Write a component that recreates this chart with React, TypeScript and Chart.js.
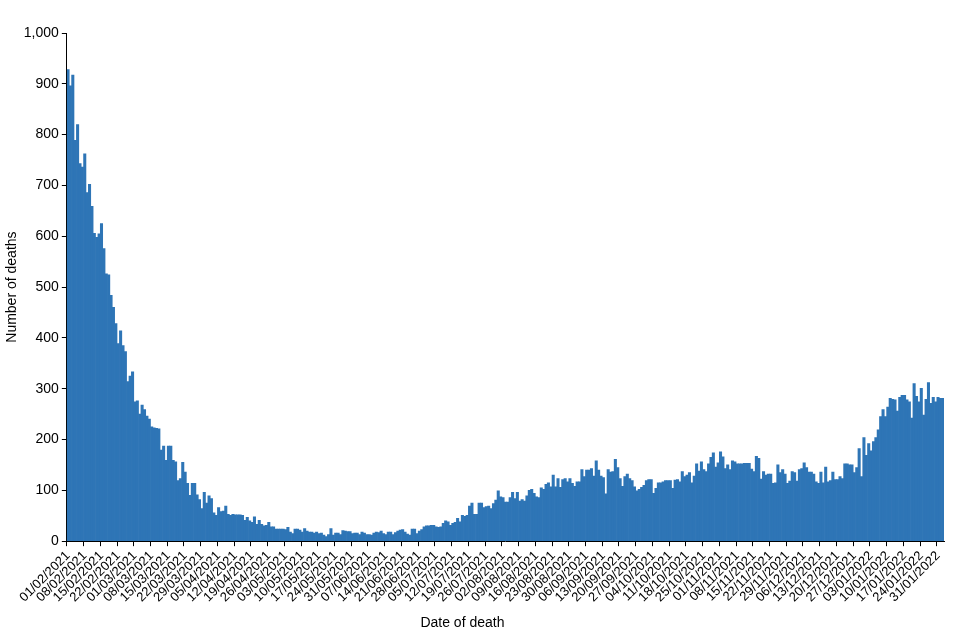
import React, { useEffect, useRef } from "react";
import { Chart, registerables } from "chart.js";

Chart.register(...registerables);

// Daily deaths, 01/02/2021 – 02/02/2022, split by month
const deathsFeb2021 = [928, 896, 917, 789, 820, 743, 736, 762, 686, 702, 659, 606, 598, 605, 625, 576, 526, 524, 484, 460, 428, 389, 414, 385, 373, 314, 325, 333];
const deathsMar2021 = [274, 276, 250, 268, 259, 246, 240, 225, 223, 222, 221, 179, 187, 159, 187, 187, 159, 156, 119, 123, 155, 136, 114, 90, 114, 114, 91, 82, 64, 96, 75];
const deathsApr2021 = [89, 84, 56, 51, 66, 58, 59, 69, 53, 51, 53, 52, 52, 52, 51, 41, 47, 40, 37, 48, 33, 41, 33, 30, 31, 37, 28, 28, 24, 24];
const deathsMay2021 = [24, 24, 23, 27, 18, 15, 24, 24, 22, 18, 25, 20, 18, 18, 16, 18, 15, 16, 12, 9, 13, 25, 12, 16, 16, 13, 21, 20, 19, 19, 15];
const deathsJun2021 = [16, 16, 13, 18, 16, 13, 13, 12, 16, 18, 17, 20, 15, 13, 18, 18, 13, 17, 20, 22, 23, 18, 14, 12, 24, 24, 15, 20, 23, 28];
const deathsJul2021 = [30, 30, 31, 31, 28, 27, 28, 35, 40, 38, 31, 35, 37, 45, 38, 51, 49, 51, 69, 75, 53, 53, 75, 75, 66, 68, 69, 64, 74, 81, 99];
const deathsAug2021 = [87, 86, 77, 77, 86, 96, 84, 96, 79, 82, 79, 89, 100, 102, 94, 87, 86, 105, 102, 112, 115, 107, 130, 107, 123, 106, 121, 123, 117, 123, 114];
const deathsSep2021 = [108, 117, 117, 141, 127, 140, 140, 143, 128, 158, 140, 128, 125, 93, 141, 136, 137, 161, 145, 123, 108, 127, 132, 123, 119, 107, 99, 102, 106, 110];
const deathsOct2021 = [119, 121, 121, 94, 104, 115, 115, 117, 119, 119, 119, 104, 120, 121, 117, 137, 127, 130, 135, 115, 128, 152, 138, 156, 141, 137, 152, 165, 174, 146, 154];
const deathsNov2021 = [176, 166, 143, 150, 141, 158, 156, 152, 152, 152, 153, 153, 153, 142, 137, 167, 163, 122, 137, 130, 132, 132, 114, 115, 150, 135, 141, 132, 114, 118];
const deathsDec2021 = [137, 135, 118, 141, 143, 154, 145, 136, 136, 132, 117, 114, 136, 115, 146, 117, 119, 136, 121, 121, 127, 123, 152, 152, 150, 150, 135, 145, 182, 127, 204];
const deathsJan2022 = [169, 192, 178, 196, 204, 219, 245, 259, 245, 264, 281, 279, 278, 256, 283, 287, 287, 278, 274, 242, 310, 285, 274, 301, 248, 279, 312, 271, 283, 274, 283];
const deathsFeb2022 = [281, 281];

const deaths: number[] = [
  ...deathsFeb2021, ...deathsMar2021, ...deathsApr2021, ...deathsMay2021,
  ...deathsJun2021, ...deathsJul2021, ...deathsAug2021, ...deathsSep2021,
  ...deathsOct2021, ...deathsNov2021, ...deathsDec2021, ...deathsJan2022,
  ...deathsFeb2022,
];

const startDate = { year: 2021, month: 2, day: 1 };
const labelEvery = 7;
const yTitle = "Number of deaths";
const xTitle = "Date of death";

function buildDates(count: number): string[] {
  const out: string[] = [];
  for (let i = 0; i < count; i++) {
    const d = new Date(Date.UTC(startDate.year, startDate.month - 1, startDate.day + i));
    const dd = String(d.getUTCDate()).padStart(2, "0");
    const mm = String(d.getUTCMonth() + 1).padStart(2, "0");
    out.push(`${dd}/${mm}/${d.getUTCFullYear()}`);
  }
  return out;
}

const dates = buildDates(deaths.length);

const FONT = "'Liberation Sans', Arial, Helvetica, sans-serif";
const BAR = "#2e75b6";

// Draws the x-axis title (slightly left of the plot centre, as in the source)
const xTitlePlugin = {
  id: "xTitleShifted",
  afterDraw(chart: any) {
    const s = chart.scales.x;
    const ctx = chart.ctx;
    ctx.save();
    ctx.font = `14px ${FONT}`;
    ctx.fillStyle = "#000";
    ctx.textAlign = "center";
    ctx.textBaseline = "middle";
    ctx.fillText(xTitle, (s.left + s.right) / 2 - 43, s.bottom - 8.4);
    ctx.restore();
  },
};

export default function App() {
  const ref = useRef<HTMLCanvasElement | null>(null);

  useEffect(() => {
    if (!ref.current) return;
    Chart.defaults.font.family = FONT;
    const chart = new Chart(ref.current, {
      type: "bar",
      data: {
        labels: dates,
        datasets: [
          {
            data: deaths,
            backgroundColor: BAR,
            borderWidth: 0,
            barPercentage: 1,
            categoryPercentage: 1,
          },
        ],
      },
      plugins: [xTitlePlugin],
      options: {
        animation: false,
        responsive: true,
        maintainAspectRatio: false,
        layout: { padding: { left: 0, right: 16, top: 33, bottom: 8 } },
        plugins: { legend: { display: false }, tooltip: { enabled: false } },
        scales: {
          x: {
            offset: true,
            grid: {
              offset: true,
              drawOnChartArea: false,
              drawTicks: true,
              tickLength: 5,
              color: (ctx: any) => (ctx.index % labelEvery === 0 ? "#000" : "rgba(0,0,0,0)"),
            },
            border: { display: true, color: "#000", width: 1 },
            ticks: {
              autoSkip: false,
              maxRotation: 45,
              minRotation: 45,
              padding: 2,
              color: "#000",
              font: { family: FONT, size: 13 },
              callback: (_v: any, i: number) => (i % labelEvery === 0 ? dates[i] : ""),
            },
            title: {
              display: true,
              text: xTitle,
              color: "rgba(0,0,0,0)",
              font: { family: FONT, size: 14 },
              padding: { top: 8, bottom: 0 },
            },
          },
          y: {
            min: 0,
            max: 1000,
            grid: { drawOnChartArea: false, drawTicks: true, tickLength: 5, color: "#000" },
            border: { display: true, color: "#000", width: 1 },
            ticks: {
              stepSize: 100,
              padding: 3,
              color: "#000",
              font: { family: FONT, size: 14 },
            },
            title: {
              display: true,
              text: yTitle,
              color: "#000",
              font: { family: FONT, size: 14 },
              padding: { top: 4, bottom: 0 },
            },
          },
        },
      },
    });
    return () => chart.destroy();
  }, []);

  return (
    <div style={{ position: "fixed", left: 0, top: 0, width: 960, height: 640, background: "#fff" }}>
      <canvas ref={ref} />
    </div>
  );
}
